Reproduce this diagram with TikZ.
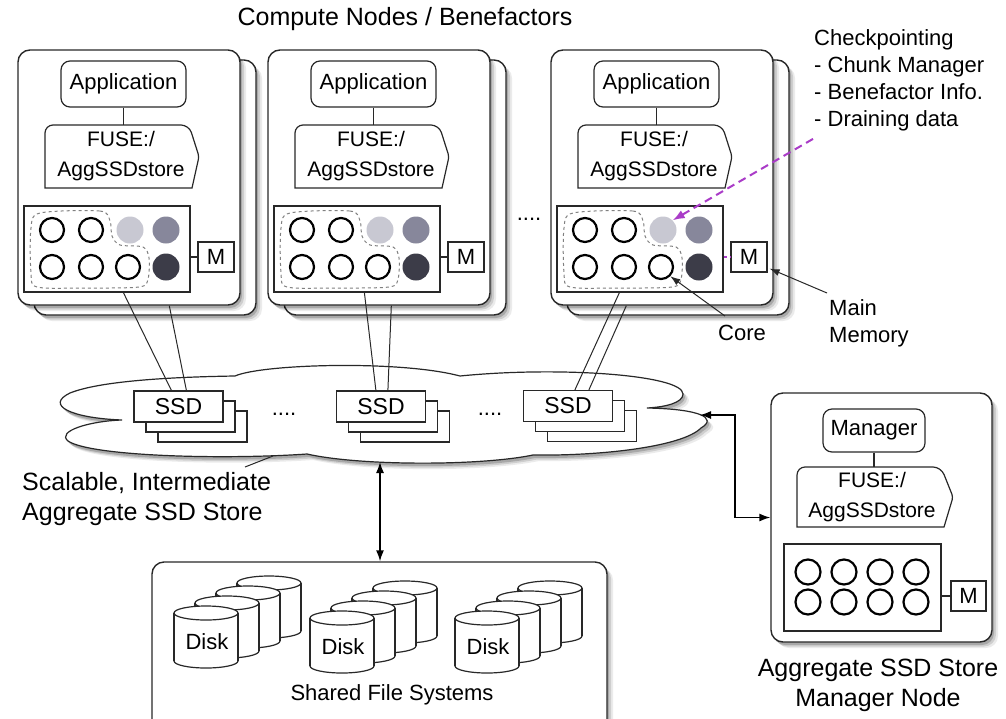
\documentclass[tikz,border=0pt]{standalone}
\usepackage{fontspec}
\setmainfont{Liberation Sans}
\usetikzlibrary{calc,shadows,arrows.meta}
\definecolor{mag}{RGB}{170,60,200}
\definecolor{cLight}{RGB}{200,200,210}
\definecolor{cMid}{RGB}{135,135,155}
\definecolor{cDark}{RGB}{60,60,72}
\definecolor{ln}{RGB}{40,40,40}
\newcommand\ftxt{\fontsize{22}{27}\selectfont}
\newcommand\fbig{\fontsize{25}{30}\selectfont}
\newcommand\ffuse{\fontsize{21}{30}\selectfont}
\newcommand\fssd{\fontsize{23}{27}\selectfont}
\tikzset{
 base/.style={draw=ln, line width=1.2pt},
 shadowed/.style={
   drop shadow={shadow xshift=6pt, shadow yshift=-6pt, opacity=0.08, fill=black},
   drop shadow={shadow xshift=4pt, shadow yshift=-4.5pt, opacity=0.12, fill=black},
   drop shadow={shadow xshift=2pt, shadow yshift=-3pt, opacity=0.18, fill=black}},
 frame/.style={base, line width=1.4pt, fill=white, rounded corners=12pt, minimum width=222pt, minimum height=255pt, inner sep=0pt, shadowed},
 appbox/.style={base, fill=white, rounded corners=9pt, minimum width=125pt, minimum height=46pt, inner sep=0pt, font=\ftxt},
 fusebox/.style={align=center, font=\ffuse, minimum width=152pt, minimum height=63pt, inner sep=0pt},
 cpubox/.style={base, fill=white, minimum width=166pt, minimum height=86pt, inner sep=0pt},
 core/.style={circle, draw=black, line width=2.2pt, minimum size=24pt, inner sep=0pt},
 corefill/.style={circle, minimum size=27pt, inner sep=0pt, fill=#1},
 membox/.style={base, fill=white, minimum width=36pt, minimum height=30pt, inner sep=0pt, font=\ftxt},
 grp/.style={draw=gray, dashed, line width=1pt},
 ssdbox/.style={base, fill=white, minimum width=89pt, minimum height=31pt, inner sep=0pt, font=\fssd},
 dblarrow/.style={draw=black, line width=1.4pt, {Latex[length=11pt,width=8pt]}-{Latex[length=11pt,width=8pt]}},
 onearrow/.style={draw=ln, line width=1pt, -{Latex[length=10pt,width=7pt]}},
 thinline/.style={draw=ln, line width=1pt},
 lbl/.style={font=\ftxt, inner sep=0pt},
}
\newcommand\computenode[3]{%
\begin{scope}[xshift=#1pt]
\node[frame] (back#2) at (145,187.5) {};
\node[frame] (frame#2) at (129,177.5) {};
\node[appbox] (app#2) at (123.5,84) {Application};
\draw[base, fill=white] (45,188) [rounded corners=8pt] -- (45,125) -- (189,125) [rounded corners=3pt] -- (199,156.5) [sharp corners] -- (192,188) -- cycle;
\node[fusebox] (fuse#2) at (121,156.5) {FUSE:/\\AggSSDstore};
\draw[base] (app#2.south) -- (app#2.south |- fuse#2.north);
\node[cpubox] (cpu#2) at (107,249) {};
\draw[grp] plot[smooth cycle] coordinates {(40,213) (100,211) (110,221) (112,236) (120,245) (143,247) (149,258) (148,279) (139,287) (83,288) (37,287) (31,273) (31,228)};
\node[core] (c#2-11) at (52,230) {};
\node[core] (c#2-12) at (91,230) {};
\node[corefill=cLight] (c#2-13) at (130,230) {};
\node[corefill=cMid] (c#2-14) at (166,230) {};
\node[core] (c#2-21) at (52,267) {};
\node[core] (c#2-22) at (91,267) {};
\node[core] (c#2-23) at (128,267) {};
\node[corefill=cDark] (c#2-24) at (166,267) {};
\node[membox] (m#2) at (216,257) {M};
\draw[#3] (cpu#2.east |- m#2.west) -- (m#2.west);
\end{scope}}
\newcommand\ssdstack[3]{%
\node[ssdbox] (#3c) at (#1+24,#2+20) {};
\node[ssdbox] (#3b) at (#1+12,#2+10) {};
\node[ssdbox] (#3) at (#1,#2) {SSD};}
\newcommand\diskcyl[2]{%
\filldraw[base, fill=white] (#1,#2+48) ellipse [x radius=32, y radius=7];
\fill[white] (#1-32,#2) rectangle (#1+32,#2+48);
\draw[base] (#1-32,#2) -- (#1-32,#2+48) (#1+32,#2) -- (#1+32,#2+48);
\filldraw[base, fill=white] (#1,#2) ellipse [x radius=32, y radius=7];}
\begin{document}
\begin{tikzpicture}[x=1pt,y=-1pt]
\useasboundingbox (0,0) rectangle (1006,718);
\fill[white] (0,0) rectangle (1006,718);
\node[lbl, font=\fbig] (title) at (405,19) {Compute Nodes / Benefactors};
\computenode{0}{1}{base}
\computenode{250}{2}{base}
\computenode{533}{3}{{draw=mag, dashed, line width=1.5pt}}
\node[lbl] (dots1) at (529,219) {....};
% checkpoint annotations
\node[lbl, align=left, anchor=north west] (chk) at (814,29) {Checkpointing\\- Chunk Manager\\- Benefactor Info.\\- Draining data};
\draw[mag, line width=2pt, dash pattern=on 8pt off 5pt, -{Latex[length=12pt,width=9pt]}] ($(chk.south west)+(-1,8)$) -- (c3-13.north east);
\node[lbl] (core) at (742,333) {Core};
\draw[onearrow] ($(core.north)+(-17,-9)$) -- (c3-23.south east);
\node[lbl, align=left, anchor=north west] (mmem) at (829,299) {Main\\Memory};
\draw[onearrow] ($(mmem.north west)+(-2,-6)$) -- ($(m3.south east)+(2,-4)$);
% cloud
\draw[base, fill=white, shadowed]
 (122,420) .. controls (70,418) and (45,405) .. (70,393)
 .. controls (100,381) and (170,377) .. (235,376)
 .. controls (262,364) and (400,360) .. (460,376)
 .. controls (560,366) and (683,375) .. (683,394)
 .. controls (683,403) and (665,407) .. (647,408)
 .. controls (700,409) and (718,418) .. (701,428)
 .. controls (682,447) and (600,456) .. (533,455)
 .. controls (480,466) and (360,466) .. (307,454)
 .. controls (220,460) and (90,456) .. (68,441)
 .. controls (56,431) and (90,421) .. (122,420) -- cycle;
\coordinate (cloudR) at (700,415);
\coordinate (cloudB) at (380,462);
\coordinate (cloudL) at (273,456);
\ssdstack{178.5}{406.5}{ssd1}
\ssdstack{381}{406.5}{ssd2}
\ssdstack{568}{406}{ssd3}
\node[lbl] (dots2) at (284,414) {....};
\node[lbl] (dots3) at (490,414) {....};
% links compute -> ssd
\draw[thinline] ($(cpu1.south west)+(100,0)$) -- ($(ssd1.north west)+(38,0)$);
\draw[thinline] ($(frame1.south west)+(152,0)$) -- ($(ssd1.north west)+(53,0)$);
\draw[thinline] ($(cpu2.south west)+(91,0)$) -- ($(ssd2.north west)+(40,0)$);
\draw[thinline] ($(frame2.south west)+(124,0)$) -- ($(ssd2.north west)+(52,0)$);
\draw[thinline] ($(cpu3.south west)+(63,0)$) -- ($(ssd3.north west)+(52,0)$);
\draw[thinline] ($(frame3.south west)+(76,0)$) -- ($(ssd3.north west)+(66,0)$);
% label of the store
\node[lbl, font=\fbig, align=left, anchor=north west] (scal) at (22,472) {Scalable, Intermediate\\Aggregate SSD Store};
\draw[thinline] ($(scal.north west)+(223,-5)$) -- (cloudL);
% shared file systems
\node[frame, minimum width=455pt, minimum height=200pt] (sfs) at (379.5,662) {};
\foreach \gx/\gy/\n in {206/613/1, 342/618/2, 487/618/3} {
 \diskcyl{\gx+63}{\gy-30}
 \diskcyl{\gx+42}{\gy-20}
 \diskcyl{\gx+21}{\gy-10}
 \diskcyl{\gx}{\gy}
 \node[lbl] (disk\n) at (\gx+1,\gy+29) {Disk};
}
\node[lbl] (sfslbl) at (392,695) {Shared File Systems};
\draw[dblarrow] (cloudB) -- (cloudB |- sfs.north);
% manager node
\node[frame, minimum width=221pt, minimum height=249pt] (mgrbox) at (881.5,517.5) {};
\node[appbox, minimum width=102pt, minimum height=43pt] (mgr) at (874,430.5) {Manager};
\draw[base, fill=white] (797,527) [rounded corners=8pt] -- (797,467) -- (941,467) [rounded corners=3pt] -- (953,497) [sharp corners] -- (944,527) -- cycle;
\node[fusebox, minimum width=151pt, minimum height=60pt] (mfuse) at (872,497) {FUSE:/\\AggSSDstore};
\draw[base] (mgr.south) -- (mgr.south |- mfuse.north);
\node[cpubox, minimum width=157pt, minimum height=87pt] (mcpu) at (862.5,587.5) {};
\foreach \i/\x in {1/808,2/844,3/880,4/916} {
 \node[core, minimum size=25pt] (mc1\i) at (\x,572) {};
 \node[core, minimum size=25pt] (mc2\i) at (\x,602) {};
}
\node[membox, minimum width=35pt] (mgrm) at (968.5,596) {M};
\draw[base] (mcpu.east |- mgrm.west) -- (mgrm.west);
\draw[dblarrow] (cloudR) -- ++(35,0) |- (mgrbox.west);
\node[lbl, font=\fbig, align=center] (mgrlbl) at (878,685) {Aggregate SSD Store\\Manager Node};
\end{tikzpicture}
\end{document}
